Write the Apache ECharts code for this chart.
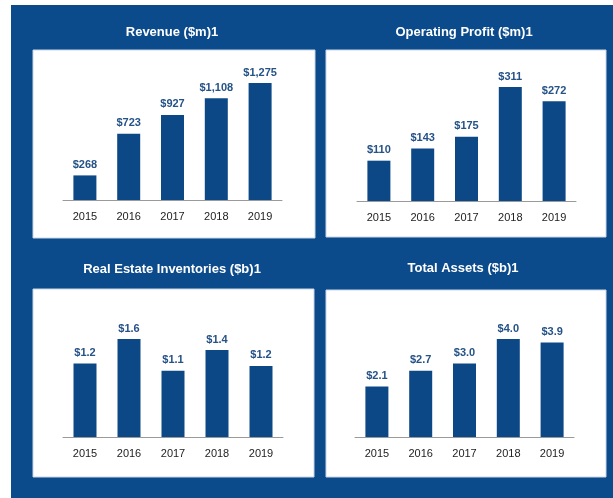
<!DOCTYPE html>
<html lang="en">
  <head>
    <meta charset="UTF-8" />
    <script src="https://cdn.jsdelivr.net/npm/echarts@6/dist/echarts.min.js"></script>
    <title>Financial highlights</title>
    <style>
      html, body { margin: 0; padding: 0; background: #fff; }
    </style>
  </head>
  <body>
    <div id="container" style="width: 613px; height: 498px;"></div>

    <script>
      const years = ["2015", "2016", "2017", "2018", "2019"];

      const revenue = [268, 723, 927, 1108, 1275];
      const operatingProfit = [110, 143, 175, 311, 272];
      const inventories = [1.2, 1.6, 1.08, 1.42, 1.16];
      const totalAssets = [2.06, 2.7, 3.0, 4.0, 3.86];

      const titles = [
        "Revenue ($m)1",
        "Operating Profit ($m)1",
        "Real Estate Inventories ($b)1",
        "Total Assets ($b)1",
      ];

      const navy = "#0b4a8b";
      const barColor = "#0c4886";

      const myChart = echarts.init(document.getElementById("container"));

      // white panels sitting on the navy background
      const panels = [
        { x: 33, y: 50, w: 282, h: 188 },
        { x: 326, y: 50, w: 280, h: 187 },
        { x: 33, y: 289, w: 281, h: 188 },
        { x: 326, y: 290, w: 280, h: 187 },
      ];

      // plot areas inside each panel
      const grids = [
        { left: 63, top: 83, width: 219, height: 117 },
        { left: 357, top: 87, width: 219, height: 114 },
        { left: 63, top: 339, width: 220, height: 98 },
        { left: 355, top: 339, width: 219, height: 98 },
      ];

      const titlePos = [
        { x: 172, y: 32 },
        { x: 464, y: 32 },
        { x: 172, y: 269 },
        { x: 463, y: 268 },
      ];

      const money = (v) => "$" + Math.round(v).toLocaleString("en-US");
      const billions = (v) => "$" + v.toFixed(1);

      const seriesData = [revenue, operatingProfit, inventories, totalAssets];
      const formatters = [money, money, billions, billions];

      const option = {
        animation: false,
        backgroundColor: "#fff",
        graphic: [
          {
            type: "rect",
            shape: { x: 11, y: 5, width: 602, height: 493 },
            style: { fill: navy },
            z: -10,
          },
          ...panels.map((p) => ({
            type: "rect",
            shape: { x: p.x, y: p.y, width: p.w, height: p.h },
            style: { fill: "#fff", stroke: "#c9d6e6", lineWidth: 1 },
            z: -5,
          })),
          ...titles.map((t, i) => ({
            type: "text",
            x: titlePos[i].x,
            y: titlePos[i].y,
            style: {
              text: t,
              fill: "#fff",
              font: "bold 13px 'Liberation Sans', Arial, sans-serif",
              align: "center",
              verticalAlign: "middle",
            },
          })),
        ],
        grid: grids,
        xAxis: grids.map((g, i) => ({
          type: "category",
          gridIndex: i,
          data: years,
          axisTick: { show: false },
          axisLine: { lineStyle: { color: "#9a9a9a", width: 1 } },
          axisLabel: {
            color: "#222",
            fontSize: 11,
            fontFamily: "Liberation Sans",
            margin: 11,
          },
        })),
        yAxis: grids.map((g, i) => ({
          type: "value",
          gridIndex: i,
          min: 0,
          max: "dataMax",
          show: false,
          splitLine: { show: false },
        })),
        series: seriesData.map((d, i) => ({
          name: titles[i],
          type: "bar",
          xAxisIndex: i,
          yAxisIndex: i,
          data: d,
          barWidth: 23,
          itemStyle: { color: barColor },
          label: {
            show: true,
            position: "top",
            distance: 5,
            color: "#255287",
            fontSize: 11,
            fontWeight: "bold",
            fontFamily: "Liberation Sans",
            formatter: (p) => formatters[i](p.value),
          },
        })),
      };

      myChart.setOption(option);
    </script>
  </body>
</html>
